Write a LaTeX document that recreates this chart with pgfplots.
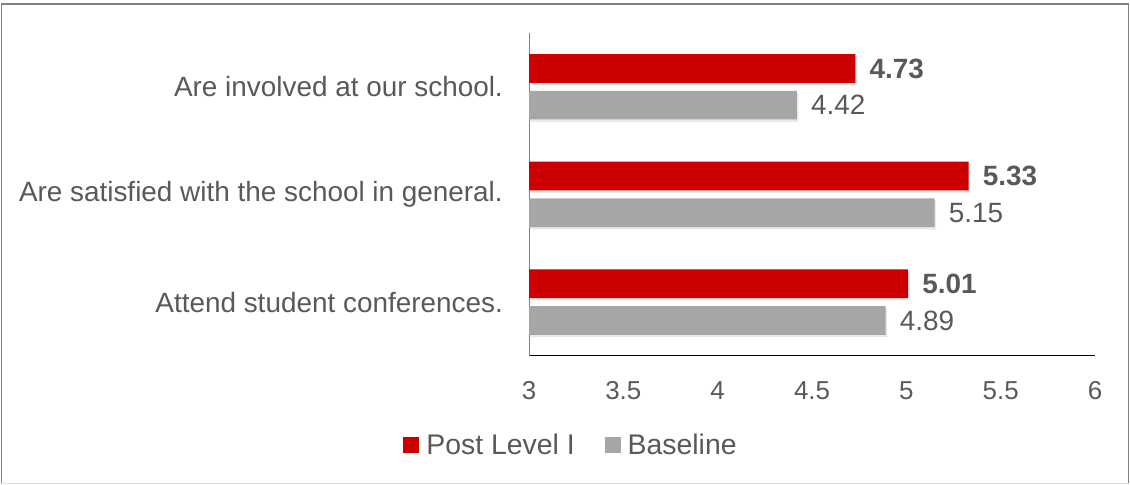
\documentclass[border=0pt]{standalone}
\usepackage{fontspec}
\setmainfont{Liberation Sans}
\usepackage{pgfplots}
\pgfplotsset{compat=1.18}
\definecolor{postred}{HTML}{CC0000}
\definecolor{basegray}{HTML}{A6A6A6}
\definecolor{txt}{HTML}{595959}
\definecolor{frame}{HTML}{808080}
\definecolor{shadowc}{HTML}{7F7F7F}

% values: y = 0 (bottom) ... 2 (top)
\pgfplotstableread{
y post base
0 5.01 4.89
1 5.33 5.15
2 4.73 4.42
}\survey

\begin{document}
\begin{tikzpicture}[x=1bp,y=1bp]
\useasboundingbox (0,0) rectangle (1130,485);
% outer frame
\draw[frame, line width=1.2bp] (1.5,1) -- (1.5,481) -- (1128.5,481) -- (1128.5,1);
\draw[gray!25, line width=1bp] (1.5,1) -- (1128.5,1);
\begin{axis}[
  at={(529bp,129bp)}, anchor=south west,
  scale only axis, width=566bp, height=323bp,
  xmin=3, xmax=6, ymin=-0.5, ymax=2.5,
  xbar, bar width=28.7bp,
  axis x line*=bottom, axis y line*=left,
  x axis line style={-, black, line width=1bp},
  y axis line style={-, frame, line width=1bp},
  major tick length=0pt,
  xtick={3,3.5,4,4.5,5,5.5,6},
  xticklabels={3,3.5,4,4.5,5,5.5,6},
  xticklabel style={font=\fontsize{26}{30}\selectfont, text=txt, anchor=center, yshift=-35bp},
  ytick={0,1,2},
  yticklabels={Attend student conferences., Are satisfied with the school in general., Are involved at our school.},
  yticklabel style={font=\fontsize{28}{32}\selectfont, text=txt, anchor=east, inner sep=0pt, xshift=-26bp},
  legend columns=2,
  legend style={at={(axis description cs:0.0742,-0.2755)}, anchor=center, draw=none,
    font=\fontsize{28.5}{33}\selectfont, text=txt,
    /tikz/every even column/.append style={column sep=28bp},
    legend cell align=left},
  legend image code/.code={\fill[#1] (0bp,-8bp) rectangle (16bp,8bp); \path (0bp,0bp) (21bp,0bp);},
  nodes near coords={\pgfmathprintnumber[fixed,precision=2,assume math mode=true]{\pgfplotspointmeta}},
  nodes near coords align=horizontal,
  every node near coord/.append style={anchor=west, inner sep=0pt, xshift=14bp,
    font=\fontsize{28}{32}\selectfont, text=txt},
]
% soft shadows under the bars
\addplot[forget plot, draw=none, fill=shadowc, fill opacity=0.18, bar shift=16.2bp, xshift=1.5bp, nodes near coords={}] table[x=post, y=y] {\survey};
\addplot[forget plot, draw=none, fill=shadowc, fill opacity=0.18, bar shift=-20.6bp, xshift=1.5bp, nodes near coords={}] table[x=base, y=y] {\survey};
% bars
\addplot[draw=none, fill=postred, bar shift=18.4bp,
  every node near coord/.append style={font=\fontsize{28}{32}\selectfont\bfseries}] table[x=post, y=y] {\survey};
\addlegendentry{Post Level I}
\addplot[draw=none, fill=basegray, bar shift=-18.3bp] table[x=base, y=y] {\survey};
\addlegendentry{Baseline}
\end{axis}
\end{tikzpicture}
\end{document}
